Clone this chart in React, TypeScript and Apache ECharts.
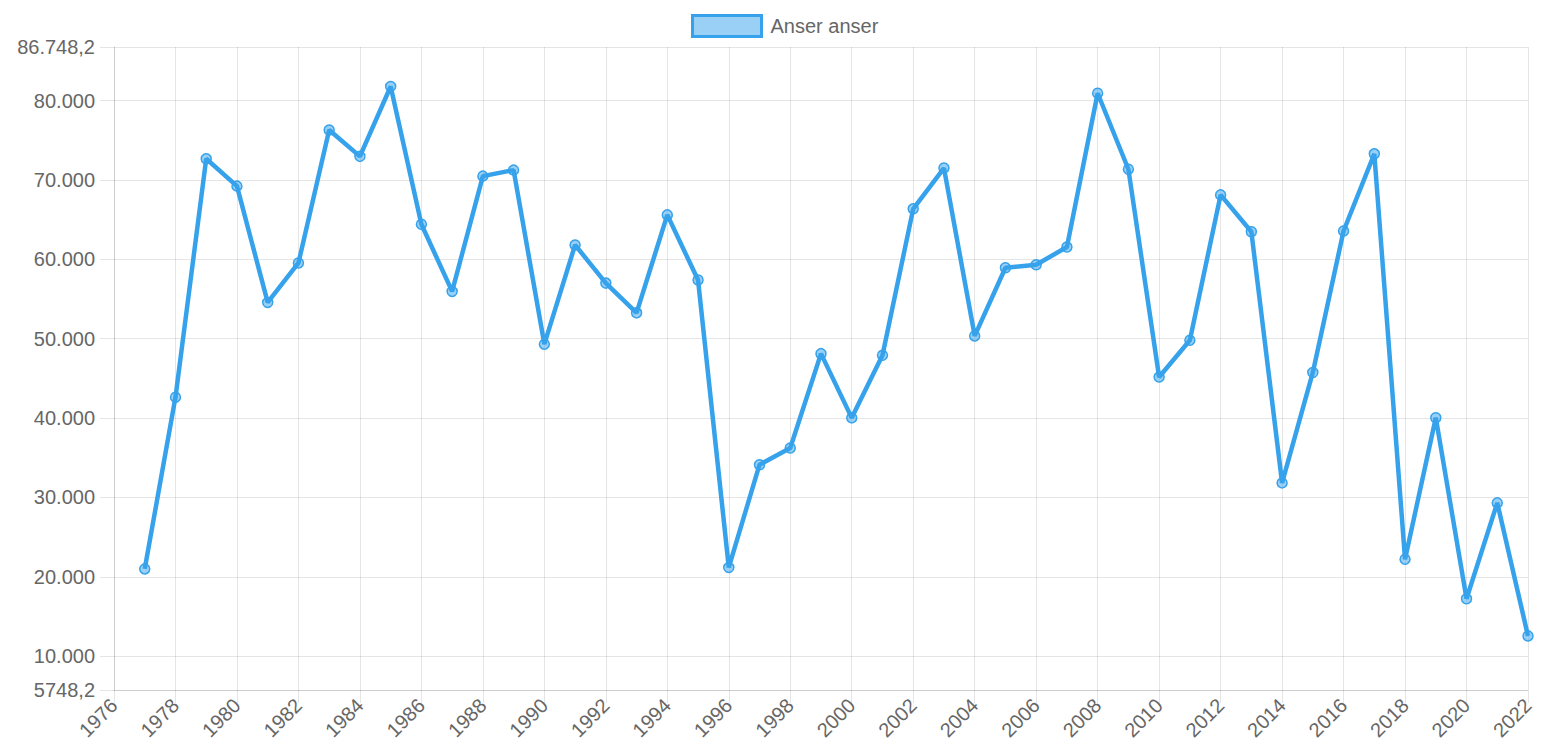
import React, { useEffect, useRef } from "react";
import * as echarts from "echarts";

const seriesName = "Anser anser";
const years = [
  1977, 1978, 1979, 1980, 1981, 1982, 1983, 1984, 1985, 1986, 1987, 1988,
  1989, 1990, 1991, 1992, 1993, 1994, 1995, 1996, 1997, 1998, 1999, 2000,
  2001, 2002, 2003, 2004, 2005, 2006, 2007, 2008, 2009, 2010, 2011, 2012,
  2013, 2014, 2015, 2016, 2017, 2018, 2019, 2020, 2021, 2022,
];
const counts = [
  21000, 42630, 72670, 69220, 54570, 59540, 76290, 72970, 81770, 64420,
  55960, 70480, 71240, 49310, 61810, 57010, 53260, 65600, 57390, 21190,
  34130, 36230, 48120, 40030, 47910, 66360, 71500, 50350, 58940, 59320,
  61550, 80920, 71350, 45170, 49810, 68120, 63480, 31840, 45750, 63570,
  73290, 22220, 40050, 17250, 29320, 12560,
];
const yMin = 5748.2;
const yMax = 86748.2;
const yTicks = [5748.2, 10000, 20000, 30000, 40000, 50000, 60000, 70000, 80000, 86748.2];
const yTickLabels = ["5748,2", "10.000", "20.000", "30.000", "40.000", "50.000", "60.000", "70.000", "80.000", "86.748,2"];
const xMin = 1976;
const xMax = 2022;
const xStep = 2;

const FONT = "'Liberation Sans', Arial, Helvetica, sans-serif";
const GRID = "rgba(0,0,0,0.1)";
const BLUE = "#36A2EB";
const TEXT = "#666";
const FS = 20;

export default function App() {
  const ref = useRef<HTMLDivElement>(null);
  useEffect(() => {
    document.body.style.margin = "0";
    const chart = echarts.init(ref.current!, null, { renderer: "svg" });
    chart.setOption({
      animation: false,
      textStyle: { fontFamily: FONT },
      legend: {
        top: 9,
        left: 686,
        icon: "rect",
        itemWidth: 69,
        itemHeight: 21,
        itemGap: 10,
        itemStyle: { color: "rgba(54,162,235,0.5)", borderColor: BLUE, borderWidth: 3 },
        textStyle: { color: TEXT, fontSize: FS, fontFamily: FONT, padding: [0, 0, 0, 4] },
        data: [seriesName],
      },
      grid: { left: 114, right: 13, top: 47, bottom: 64, containLabel: false },
      xAxis: {
        type: "value",
        min: xMin,
        max: xMax,
        interval: xStep,
        axisLine: { show: true, lineStyle: { color: GRID, width: 1 } },
        axisTick: { show: true, length: 13, lineStyle: { color: GRID } },
        splitLine: { show: true, lineStyle: { color: GRID, width: 1 } },
        axisLabel: {
          rotate: 45,
          margin: 12,
          color: TEXT,
          fontSize: FS,
          fontFamily: FONT,
          formatter: (v: number) => String(v),
        },
      },
      yAxis: {
        type: "value",
        min: yMin,
        max: yMax,
        axisLine: { show: true, lineStyle: { color: GRID, width: 1 } },
        axisTick: { show: true, length: 14, lineStyle: { color: GRID }, customValues: yTicks },
        splitLine: { show: true, lineStyle: { color: GRID, width: 1 } },
        axisLabel: {
          margin: 19,
          color: TEXT,
          fontSize: FS,
          fontFamily: FONT,
          customValues: yTicks,
          formatter: (v: number) => {
            const i = yTicks.findIndex((t) => Math.abs(t - v) < 0.01);
            return i >= 0 ? yTickLabels[i] : "";
          },
        },
      },
      series: [
        {
          name: seriesName,
          type: "line",
          data: years.map((y, i) => [y, counts[i]]),
          lineStyle: { color: BLUE, width: 4.5 },
          itemStyle: { color: "rgba(54,162,235,0.5)", borderColor: BLUE, borderWidth: 1.5 },
          symbol: "circle",
          symbolSize: 10,
          showSymbol: true,
          z: 3,
        },
      ],
    });
    return () => chart.dispose();
  }, []);
  return <div ref={ref} style={{ width: 1541, height: 754 }} />;
}
